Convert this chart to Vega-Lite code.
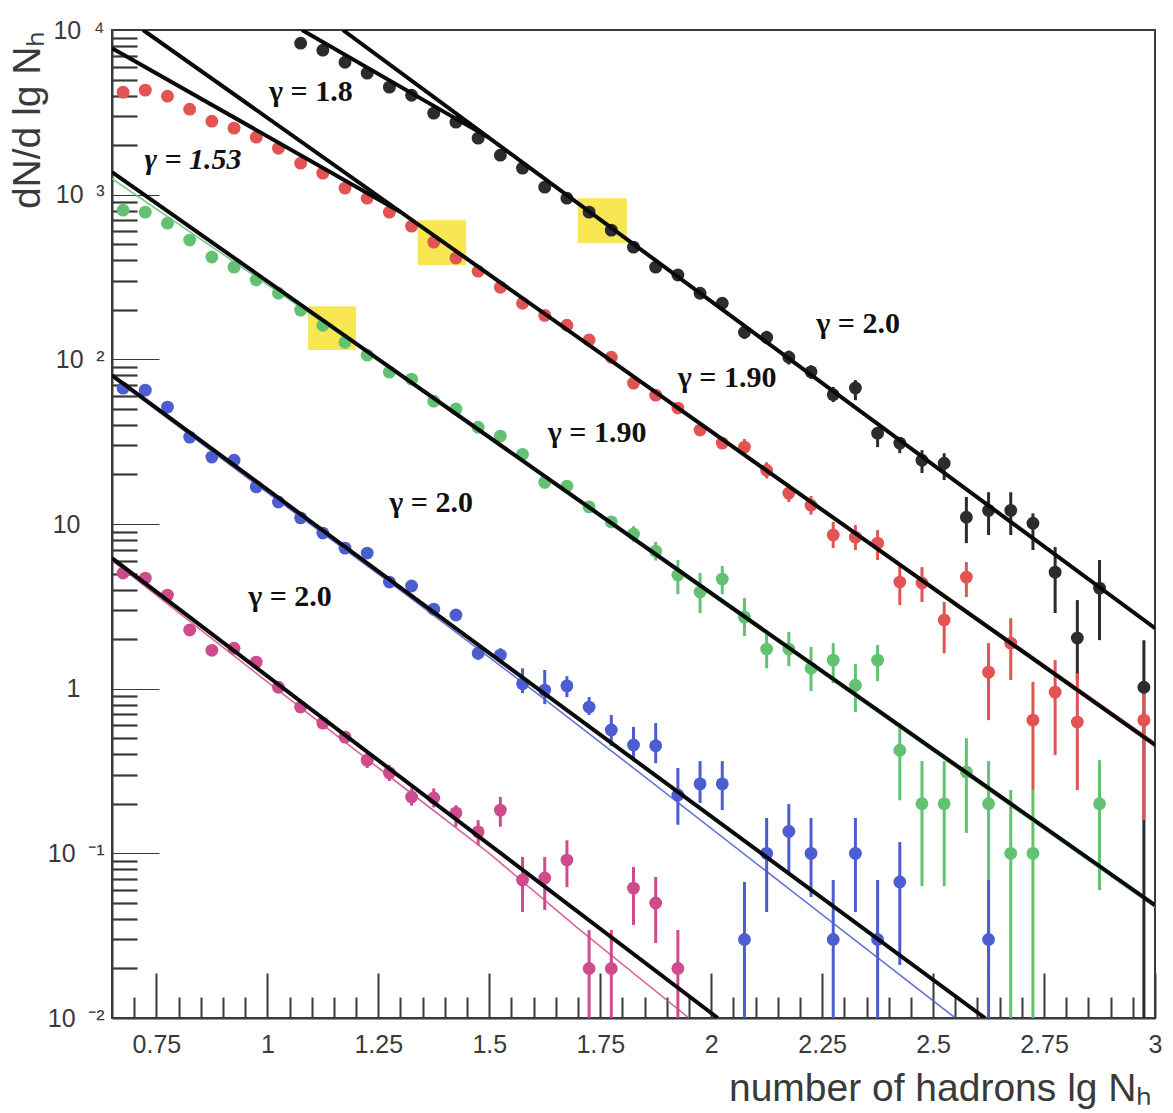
{
  "$schema": "https://vega.github.io/schema/vega-lite/v6.json",
  "width": 1043,
  "height": 988,
  "autosize": {"type": "none"},
  "padding": {"left": 112, "top": 30, "right": 18, "bottom": 95},
  "background": "white",
  "config": {
    "view": {"stroke": "#3a3a3a", "strokeWidth": 2},
    "axis": {
      "grid": false,
      "domainColor": "#3a3a3a",
      "domainWidth": 2,
      "tickColor": "#3a3a3a",
      "labelColor": "#3a3a3a",
      "titleColor": "#3a3a3a",
      "labelFont": "Liberation Sans",
      "titleFont": "Liberation Sans",
      "titleFontWeight": "normal",
      "labelOverlap": false,
      "labelFlush": false,
      "labelLimit": 0
    }
  },
  "datasets": {
    "points": [
      {"s": "black", "x": 1.075, "y": 8318},
      {"s": "black", "x": 1.125, "y": 7540},
      {"s": "black", "x": 1.175, "y": 6370},
      {"s": "black", "x": 1.225, "y": 5470},
      {"s": "black", "x": 1.275, "y": 4497},
      {"s": "black", "x": 1.325, "y": 4018},
      {"s": "black", "x": 1.375, "y": 3126},
      {"s": "black", "x": 1.425, "y": 2757},
      {"s": "black", "x": 1.475, "y": 2204},
      {"s": "black", "x": 1.525, "y": 1737},
      {"s": "black", "x": 1.575, "y": 1449},
      {"s": "black", "x": 1.625, "y": 1111},
      {"s": "black", "x": 1.675, "y": 952},
      {"s": "black", "x": 1.725, "y": 783},
      {"s": "black", "x": 1.775, "y": 609},
      {"s": "black", "x": 1.825, "y": 480},
      {"s": "black", "x": 1.875, "y": 363},
      {"s": "black", "x": 1.925, "y": 325},
      {"s": "black", "x": 1.975, "y": 252},
      {"s": "black", "x": 2.025, "y": 219},
      {"s": "black", "x": 2.075, "y": 146},
      {"s": "black", "x": 2.125, "y": 136},
      {"s": "black", "x": 2.175, "y": 103},
      {"s": "black", "x": 2.225, "y": 84},
      {"s": "black", "x": 2.275, "y": 61},
      {"s": "black", "x": 2.325, "y": 67},
      {"s": "black", "x": 2.375, "y": 35.6},
      {"s": "black", "x": 2.425, "y": 31},
      {"s": "black", "x": 2.475, "y": 24.4},
      {"s": "black", "x": 2.525, "y": 23.4},
      {"s": "black", "x": 2.575, "y": 11.0},
      {"s": "black", "x": 2.625, "y": 12.1},
      {"s": "black", "x": 2.675, "y": 12.1},
      {"s": "black", "x": 2.725, "y": 10.1},
      {"s": "black", "x": 2.775, "y": 5.1},
      {"s": "black", "x": 2.825, "y": 2.03},
      {"s": "black", "x": 2.875, "y": 4.08},
      {"s": "black", "x": 2.975, "y": 1.02},

      {"s": "red", "x": 0.675, "y": 4190},
      {"s": "red", "x": 0.725, "y": 4312},
      {"s": "red", "x": 0.775, "y": 3963},
      {"s": "red", "x": 0.825, "y": 3304},
      {"s": "red", "x": 0.875, "y": 2794},
      {"s": "red", "x": 0.925, "y": 2535},
      {"s": "red", "x": 0.975, "y": 2234},
      {"s": "red", "x": 1.025, "y": 1915},
      {"s": "red", "x": 1.075, "y": 1553},
      {"s": "red", "x": 1.125, "y": 1351},
      {"s": "red", "x": 1.175, "y": 1096},
      {"s": "red", "x": 1.225, "y": 952},
      {"s": "red", "x": 1.275, "y": 783},
      {"s": "red", "x": 1.325, "y": 644},
      {"s": "red", "x": 1.375, "y": 515},
      {"s": "red", "x": 1.425, "y": 412},
      {"s": "red", "x": 1.475, "y": 343},
      {"s": "red", "x": 1.525, "y": 274},
      {"s": "red", "x": 1.575, "y": 219},
      {"s": "red", "x": 1.625, "y": 185},
      {"s": "red", "x": 1.675, "y": 161},
      {"s": "red", "x": 1.725, "y": 131},
      {"s": "red", "x": 1.775, "y": 103},
      {"s": "red", "x": 1.825, "y": 71.7},
      {"s": "red", "x": 1.875, "y": 60.6},
      {"s": "red", "x": 1.925, "y": 50.6},
      {"s": "red", "x": 1.975, "y": 37.2},
      {"s": "red", "x": 2.025, "y": 31.0},
      {"s": "red", "x": 2.075, "y": 29.3},
      {"s": "red", "x": 2.125, "y": 21.2},
      {"s": "red", "x": 2.175, "y": 15.4},
      {"s": "red", "x": 2.225, "y": 13.0},
      {"s": "red", "x": 2.275, "y": 8.57},
      {"s": "red", "x": 2.325, "y": 8.32},
      {"s": "red", "x": 2.375, "y": 7.65},
      {"s": "red", "x": 2.425, "y": 4.44},
      {"s": "red", "x": 2.475, "y": 4.38},
      {"s": "red", "x": 2.525, "y": 2.61},
      {"s": "red", "x": 2.575, "y": 4.76},
      {"s": "red", "x": 2.625, "y": 1.26},
      {"s": "red", "x": 2.675, "y": 1.89},
      {"s": "red", "x": 2.725, "y": 0.644},
      {"s": "red", "x": 2.775, "y": 0.953},
      {"s": "red", "x": 2.825, "y": 0.627},
      {"s": "red", "x": 2.975, "y": 0.644},

      {"s": "green", "x": 0.675, "y": 805},
      {"s": "green", "x": 0.725, "y": 783},
      {"s": "green", "x": 0.775, "y": 671},
      {"s": "green", "x": 0.825, "y": 530},
      {"s": "green", "x": 0.875, "y": 418},
      {"s": "green", "x": 0.925, "y": 363},
      {"s": "green", "x": 0.975, "y": 303},
      {"s": "green", "x": 1.025, "y": 252},
      {"s": "green", "x": 1.075, "y": 199},
      {"s": "green", "x": 1.125, "y": 161},
      {"s": "green", "x": 1.175, "y": 127},
      {"s": "green", "x": 1.225, "y": 106},
      {"s": "green", "x": 1.275, "y": 83.6},
      {"s": "green", "x": 1.325, "y": 75.8},
      {"s": "green", "x": 1.375, "y": 55.7},
      {"s": "green", "x": 1.425, "y": 49.9},
      {"s": "green", "x": 1.475, "y": 38.7},
      {"s": "green", "x": 1.525, "y": 34.2},
      {"s": "green", "x": 1.575, "y": 26.5},
      {"s": "green", "x": 1.625, "y": 17.9},
      {"s": "green", "x": 1.675, "y": 17.0},
      {"s": "green", "x": 1.725, "y": 12.7},
      {"s": "green", "x": 1.775, "y": 10.3},
      {"s": "green", "x": 1.825, "y": 8.69},
      {"s": "green", "x": 1.875, "y": 6.84},
      {"s": "green", "x": 1.925, "y": 4.9},
      {"s": "green", "x": 1.975, "y": 3.86},
      {"s": "green", "x": 2.025, "y": 4.63},
      {"s": "green", "x": 2.075, "y": 2.72},
      {"s": "green", "x": 2.125, "y": 1.74},
      {"s": "green", "x": 2.175, "y": 1.74},
      {"s": "green", "x": 2.225, "y": 1.33},
      {"s": "green", "x": 2.275, "y": 1.49},
      {"s": "green", "x": 2.325, "y": 1.05},
      {"s": "green", "x": 2.375, "y": 1.49},
      {"s": "green", "x": 2.425, "y": 0.423},
      {"s": "green", "x": 2.475, "y": 0.2},
      {"s": "green", "x": 2.525, "y": 0.2},
      {"s": "green", "x": 2.575, "y": 0.312},
      {"s": "green", "x": 2.625, "y": 0.2},
      {"s": "green", "x": 2.675, "y": 0.1},
      {"s": "green", "x": 2.725, "y": 0.1},
      {"s": "green", "x": 2.875, "y": 0.2},

      {"s": "blue", "x": 0.675, "y": 66.8},
      {"s": "blue", "x": 0.725, "y": 65.0},
      {"s": "blue", "x": 0.775, "y": 51.3},
      {"s": "blue", "x": 0.825, "y": 33.7},
      {"s": "blue", "x": 0.875, "y": 25.5},
      {"s": "blue", "x": 0.925, "y": 24.4},
      {"s": "blue", "x": 0.975, "y": 16.8},
      {"s": "blue", "x": 1.025, "y": 13.6},
      {"s": "blue", "x": 1.075, "y": 10.9},
      {"s": "blue", "x": 1.125, "y": 8.81},
      {"s": "blue", "x": 1.175, "y": 7.14},
      {"s": "blue", "x": 1.225, "y": 6.66},
      {"s": "blue", "x": 1.275, "y": 4.44},
      {"s": "blue", "x": 1.325, "y": 4.2},
      {"s": "blue", "x": 1.375, "y": 3.04},
      {"s": "blue", "x": 1.425, "y": 2.8},
      {"s": "blue", "x": 1.475, "y": 1.64},
      {"s": "blue", "x": 1.525, "y": 1.6},
      {"s": "blue", "x": 1.575, "y": 1.07},
      {"s": "blue", "x": 1.625, "y": 0.98},
      {"s": "blue", "x": 1.675, "y": 1.04},
      {"s": "blue", "x": 1.725, "y": 0.773},
      {"s": "blue", "x": 1.775, "y": 0.561},
      {"s": "blue", "x": 1.825, "y": 0.455},
      {"s": "blue", "x": 1.875, "y": 0.45},
      {"s": "blue", "x": 1.925, "y": 0.226},
      {"s": "blue", "x": 1.975, "y": 0.264},
      {"s": "blue", "x": 2.025, "y": 0.264},
      {"s": "blue", "x": 2.075, "y": 0.03},
      {"s": "blue", "x": 2.125, "y": 0.1},
      {"s": "blue", "x": 2.175, "y": 0.136},
      {"s": "blue", "x": 2.225, "y": 0.1},
      {"s": "blue", "x": 2.275, "y": 0.03},
      {"s": "blue", "x": 2.325, "y": 0.1},
      {"s": "blue", "x": 2.375, "y": 0.03},
      {"s": "blue", "x": 2.425, "y": 0.067},
      {"s": "blue", "x": 2.625, "y": 0.03},

      {"s": "magenta", "x": 0.675, "y": 5.04},
      {"s": "magenta", "x": 0.725, "y": 4.69},
      {"s": "magenta", "x": 0.775, "y": 3.7},
      {"s": "magenta", "x": 0.825, "y": 2.27},
      {"s": "magenta", "x": 0.875, "y": 1.71},
      {"s": "magenta", "x": 0.925, "y": 1.76},
      {"s": "magenta", "x": 0.975, "y": 1.45},
      {"s": "magenta", "x": 1.025, "y": 1.02},
      {"s": "magenta", "x": 1.075, "y": 0.773},
      {"s": "magenta", "x": 1.125, "y": 0.618},
      {"s": "magenta", "x": 1.175, "y": 0.508},
      {"s": "magenta", "x": 1.225, "y": 0.368},
      {"s": "magenta", "x": 1.275, "y": 0.308},
      {"s": "magenta", "x": 1.325, "y": 0.22},
      {"s": "magenta", "x": 1.375, "y": 0.217},
      {"s": "magenta", "x": 1.425, "y": 0.176},
      {"s": "magenta", "x": 1.475, "y": 0.135},
      {"s": "magenta", "x": 1.525, "y": 0.183},
      {"s": "magenta", "x": 1.575, "y": 0.0689},
      {"s": "magenta", "x": 1.625, "y": 0.0708},
      {"s": "magenta", "x": 1.675, "y": 0.091},
      {"s": "magenta", "x": 1.725, "y": 0.02},
      {"s": "magenta", "x": 1.775, "y": 0.02},
      {"s": "magenta", "x": 1.825, "y": 0.0615},
      {"s": "magenta", "x": 1.875, "y": 0.0499},
      {"s": "magenta", "x": 1.925, "y": 0.02}
    ],
    "errors": [
      {"s": "black", "x": 2.075, "y": 133, "y2": 160},
      {"s": "black", "x": 2.125, "y": 124, "y2": 149},
      {"s": "black", "x": 2.175, "y": 93, "y2": 113},
      {"s": "black", "x": 2.225, "y": 76, "y2": 92},
      {"s": "black", "x": 2.275, "y": 55, "y2": 68},
      {"s": "black", "x": 2.325, "y": 56.5, "y2": 74.8},
      {"s": "black", "x": 2.375, "y": 29.3, "y2": 38.7},
      {"s": "black", "x": 2.425, "y": 26.9, "y2": 33.7},
      {"s": "black", "x": 2.475, "y": 20.4, "y2": 28.1},
      {"s": "black", "x": 2.525, "y": 18.5, "y2": 26.9},
      {"s": "black", "x": 2.575, "y": 7.65, "y2": 14.6},
      {"s": "black", "x": 2.625, "y": 8.57, "y2": 15.6},
      {"s": "black", "x": 2.675, "y": 8.57, "y2": 15.6},
      {"s": "black", "x": 2.725, "y": 6.95, "y2": 11.6},
      {"s": "black", "x": 2.775, "y": 2.88, "y2": 7.24},
      {"s": "black", "x": 2.825, "y": 1.13, "y2": 3.45},
      {"s": "black", "x": 2.875, "y": 1.97, "y2": 6.04},
      {"s": "black", "x": 2.975, "y": 0.01, "y2": 1.97},

      {"s": "red", "x": 2.075, "y": 26.2, "y2": 32.8},
      {"s": "red", "x": 2.125, "y": 18.9, "y2": 23.7},
      {"s": "red", "x": 2.175, "y": 13.6, "y2": 17.4},
      {"s": "red", "x": 2.225, "y": 11.4, "y2": 14.8},
      {"s": "red", "x": 2.275, "y": 7.14, "y2": 10.3},
      {"s": "red", "x": 2.325, "y": 6.95, "y2": 9.85},
      {"s": "red", "x": 2.375, "y": 6.04, "y2": 9.18},
      {"s": "red", "x": 2.425, "y": 3.22, "y2": 5.63},
      {"s": "red", "x": 2.475, "y": 3.36, "y2": 5.47},
      {"s": "red", "x": 2.525, "y": 1.64, "y2": 3.36},
      {"s": "red", "x": 2.575, "y": 3.6, "y2": 5.87},
      {"s": "red", "x": 2.625, "y": 0.644, "y2": 1.89},
      {"s": "red", "x": 2.675, "y": 1.13, "y2": 2.68},
      {"s": "red", "x": 2.725, "y": 0.242, "y2": 1.1},
      {"s": "red", "x": 2.775, "y": 0.395, "y2": 1.49},
      {"s": "red", "x": 2.825, "y": 0.242, "y2": 1.24},
      {"s": "red", "x": 2.975, "y": 0.159, "y2": 1.1},

      {"s": "green", "x": 1.825, "y": 7.8, "y2": 9.7},
      {"s": "green", "x": 1.875, "y": 6.0, "y2": 7.8},
      {"s": "green", "x": 1.925, "y": 3.75, "y2": 6.04},
      {"s": "green", "x": 1.975, "y": 2.88, "y2": 5.04},
      {"s": "green", "x": 2.025, "y": 3.75, "y2": 5.55},
      {"s": "green", "x": 2.075, "y": 2.09, "y2": 3.55},
      {"s": "green", "x": 2.125, "y": 1.33, "y2": 2.21},
      {"s": "green", "x": 2.175, "y": 1.37, "y2": 2.21},
      {"s": "green", "x": 2.225, "y": 0.966, "y2": 1.79},
      {"s": "green", "x": 2.275, "y": 1.08, "y2": 1.89},
      {"s": "green", "x": 2.325, "y": 0.721, "y2": 1.41},
      {"s": "green", "x": 2.375, "y": 1.11, "y2": 1.84},
      {"s": "green", "x": 2.425, "y": 0.21, "y2": 0.618},
      {"s": "green", "x": 2.475, "y": 0.0632, "y2": 0.363},
      {"s": "green", "x": 2.525, "y": 0.0632, "y2": 0.363},
      {"s": "green", "x": 2.575, "y": 0.133, "y2": 0.501},
      {"s": "green", "x": 2.625, "y": 0.02, "y2": 0.363},
      {"s": "green", "x": 2.675, "y": 0.01, "y2": 0.242},
      {"s": "green", "x": 2.725, "y": 0.01, "y2": 0.242},
      {"s": "green", "x": 2.875, "y": 0.0598, "y2": 0.368},

      {"s": "blue", "x": 1.475, "y": 1.5, "y2": 1.8},
      {"s": "blue", "x": 1.525, "y": 1.45, "y2": 1.76},
      {"s": "blue", "x": 1.575, "y": 0.94, "y2": 1.33},
      {"s": "blue", "x": 1.625, "y": 0.805, "y2": 1.3},
      {"s": "blue", "x": 1.675, "y": 0.889, "y2": 1.19},
      {"s": "blue", "x": 1.725, "y": 0.692, "y2": 0.889},
      {"s": "blue", "x": 1.775, "y": 0.449, "y2": 0.692},
      {"s": "blue", "x": 1.825, "y": 0.363, "y2": 0.585},
      {"s": "blue", "x": 1.875, "y": 0.353, "y2": 0.618},
      {"s": "blue", "x": 1.925, "y": 0.149, "y2": 0.33},
      {"s": "blue", "x": 1.975, "y": 0.202, "y2": 0.363},
      {"s": "blue", "x": 2.025, "y": 0.183, "y2": 0.363},
      {"s": "blue", "x": 2.075, "y": 0.01, "y2": 0.067},
      {"s": "blue", "x": 2.125, "y": 0.044, "y2": 0.164},
      {"s": "blue", "x": 2.175, "y": 0.0738, "y2": 0.199},
      {"s": "blue", "x": 2.225, "y": 0.0543, "y2": 0.164},
      {"s": "blue", "x": 2.275, "y": 0.01, "y2": 0.0689},
      {"s": "blue", "x": 2.325, "y": 0.044, "y2": 0.164},
      {"s": "blue", "x": 2.375, "y": 0.01, "y2": 0.0689},
      {"s": "blue", "x": 2.425, "y": 0.021, "y2": 0.117},
      {"s": "blue", "x": 2.625, "y": 0.01, "y2": 0.0689},

      {"s": "magenta", "x": 1.225, "y": 0.33, "y2": 0.41},
      {"s": "magenta", "x": 1.275, "y": 0.275, "y2": 0.345},
      {"s": "magenta", "x": 1.325, "y": 0.195, "y2": 0.248},
      {"s": "magenta", "x": 1.375, "y": 0.19, "y2": 0.248},
      {"s": "magenta", "x": 1.425, "y": 0.145, "y2": 0.196},
      {"s": "magenta", "x": 1.475, "y": 0.112, "y2": 0.159},
      {"s": "magenta", "x": 1.525, "y": 0.145, "y2": 0.22},
      {"s": "magenta", "x": 1.575, "y": 0.044, "y2": 0.0951},
      {"s": "magenta", "x": 1.625, "y": 0.0453, "y2": 0.0951},
      {"s": "magenta", "x": 1.675, "y": 0.0623, "y2": 0.12},
      {"s": "magenta", "x": 1.725, "y": 0.01, "y2": 0.0342},
      {"s": "magenta", "x": 1.775, "y": 0.01, "y2": 0.0342},
      {"s": "magenta", "x": 1.825, "y": 0.0367, "y2": 0.0826},
      {"s": "magenta", "x": 1.875, "y": 0.0285, "y2": 0.0718},
      {"s": "magenta", "x": 1.925, "y": 0.01, "y2": 0.0342}
    ],
    "fits": [
      {"id": "black 2.0", "x": 1.17, "y": 10000},
      {"id": "black 2.0", "x": 3.0, "y": 2.33},
      {"id": "black 1.8", "x": 1.078, "y": 10000},
      {"id": "black 1.8", "x": 1.5, "y": 2213},
      {"id": "red 1.90", "x": 0.72, "y": 10000},
      {"id": "red 1.90", "x": 3.0, "y": 0.455},
      {"id": "red 1.53", "x": 0.65, "y": 7760},
      {"id": "red 1.53", "x": 1.3, "y": 786},
      {"id": "green 1.90", "x": 0.65, "y": 1371},
      {"id": "green 1.90", "x": 3.0, "y": 0.0485},
      {"id": "blue 2.0", "x": 0.65, "y": 80},
      {"id": "blue 2.0", "x": 2.617, "y": 0.01},
      {"id": "magenta 2.0", "x": 0.65, "y": 6.2},
      {"id": "magenta 2.0", "x": 2.015, "y": 0.01}
    ],
    "models": [
      {"s": "red", "x": 0.65, "y": 7700},
      {"s": "red", "x": 1.3, "y": 780},
      {"s": "red", "x": 3.0, "y": 0.47},
      {"s": "green", "x": 0.65, "y": 1250},
      {"s": "green", "x": 1.2, "y": 122},
      {"s": "green", "x": 3.0, "y": 0.047},
      {"s": "blue", "x": 0.65, "y": 78},
      {"s": "blue", "x": 1.0, "y": 15.5},
      {"s": "blue", "x": 1.3, "y": 3.95},
      {"s": "blue", "x": 1.6, "y": 0.97},
      {"s": "blue", "x": 1.9, "y": 0.23},
      {"s": "blue", "x": 2.2, "y": 0.054},
      {"s": "blue", "x": 2.55, "y": 0.01},
      {"s": "magenta", "x": 0.65, "y": 6.0},
      {"s": "magenta", "x": 1.0, "y": 1.1},
      {"s": "magenta", "x": 1.3, "y": 0.26},
      {"s": "magenta", "x": 1.5, "y": 0.1},
      {"s": "magenta", "x": 1.7, "y": 0.035},
      {"s": "magenta", "x": 1.95, "y": 0.01}
    ],
    "boxes": [
      {"x": 1.7, "x2": 1.81, "y": 508, "y2": 952},
      {"x": 1.339, "x2": 1.448, "y": 373, "y2": 700},
      {"x": 1.092, "x2": 1.2, "y": 114, "y2": 210}
    ],
    "labels": [
      {"x": 1.098, "y": 4190, "text": "γ = 1.8", "style": "upright"},
      {"x": 0.8325, "y": 1619, "text": "γ = 1.53", "style": "italic"},
      {"x": 2.331, "y": 164, "text": "γ = 2.0", "style": "upright"},
      {"x": 2.036, "y": 76.9, "text": "γ = 1.90", "style": "upright"},
      {"x": 1.743, "y": 35.6, "text": "γ = 1.90", "style": "upright"},
      {"x": 1.369, "y": 13.4, "text": "γ = 2.0", "style": "upright"},
      {"x": 1.051, "y": 3.6, "text": "γ = 2.0", "style": "upright"}
    ]
  },
  "encoding": {
    "x": {
      "field": "x",
      "type": "quantitative",
      "scale": {"domain": [0.65, 3.0], "nice": false, "zero": false},
      "axis": {
        "values": [0.7, 0.75, 0.8, 0.85, 0.9, 0.95, 1.0, 1.05, 1.1, 1.15, 1.2, 1.25, 1.3, 1.35, 1.4, 1.45, 1.5, 1.55, 1.6, 1.65, 1.7, 1.75, 1.8, 1.85, 1.9, 1.95, 2.0, 2.05, 2.1, 2.15, 2.2, 2.25, 2.3, 2.35, 2.4, 2.45, 2.5, 2.55, 2.6, 2.65, 2.7, 2.75, 2.8, 2.85, 2.9, 2.95, 3.0],
        "format": "~g",
        "labelExpr": "abs(datum.value * 4 - round(datum.value * 4)) < 0.001 ? datum.label : ''",
        "tickSize": {"condition": {"test": "abs(datum.value * 4 - round(datum.value * 4)) < 0.001", "value": -45}, "value": -21},
        "tickWidth": 2,
        "labelPadding": 59,
        "labelFontSize": 25,
        "title": "number of hadrons lg Nₕ",
        "titleFontSize": 39,
        "titleAlign": "right",
        "titleAnchor": "end",
        "titleBaseline": "middle",
        "titleX": 1040,
        "titleY": 70
      }
    },
    "y": {
      "field": "y",
      "type": "quantitative",
      "scale": {"type": "log", "domain": [0.01, 10000], "nice": false},
      "axis": {
        "values": [0.01, 0.02, 0.03, 0.04, 0.05, 0.06, 0.07, 0.08, 0.09, 0.1, 0.2, 0.3, 0.4, 0.5, 0.6, 0.7, 0.8, 0.9, 1, 2, 3, 4, 5, 6, 7, 8, 9, 10, 20, 30, 40, 50, 60, 70, 80, 90, 100, 200, 300, 400, 500, 600, 700, 800, 900, 1000, 2000, 3000, 4000, 5000, 6000, 7000, 8000, 9000, 10000],
        "labelExpr": "abs(log(datum.value) / LN10 - round(log(datum.value) / LN10)) > 0.001 ? '' : round(log(datum.value) / LN10) == 4 ? '10\u2002\u2074' : round(log(datum.value) / LN10) == 3 ? '10\u2002\u00b3' : round(log(datum.value) / LN10) == 2 ? '10\u2002\u00b2' : round(log(datum.value) / LN10) == 1 ? '10' : round(log(datum.value) / LN10) == 0 ? '1' : round(log(datum.value) / LN10) == -1 ? '10\u2002\u207b\u00b9' : '10\u2002\u207b\u00b2'",
        "tickSize": {"condition": {"test": "abs(log(datum.value) / LN10 - round(log(datum.value) / LN10)) < 0.001", "value": -47}, "value": -25},
        "tickWidth": {"condition": {"test": "abs(log(datum.value) / LN10 - round(log(datum.value) / LN10)) < 0.001", "value": 1.2}, "value": 2.2},
        "labelPadding": {"condition": {"test": "datum.value == 1 || datum.value == 10", "value": 79}, "value": 55},
        "labelFontSize": 25,
        "labelAlign": "right",
        "labelBaseline": "middle",
        "title": "dN/d lg Nₕ",
        "titleFontSize": 39,
        "titleAngle": -90,
        "titleAlign": "right",
        "titleAnchor": "end",
        "titleBaseline": "middle",
        "titleX": -85,
        "titleY": 0
      }
    }
  },
  "layer": [
    {
      "data": {"name": "boxes"},
      "mark": {"type": "rect", "color": "#f8e54a", "opacity": 0.95},
      "encoding": {
        "x2": {"field": "x2"},
        "y2": {"field": "y2"}
      }
    },
    {
      "data": {"name": "models"},
      "mark": {"type": "line", "strokeWidth": 1.6, "opacity": 0.85, "clip": true},
      "encoding": {
        "color": {
          "field": "s",
          "type": "nominal",
          "scale": {"domain": ["black", "red", "green", "blue", "magenta"], "range": ["#2b2b30", "#e25454", "#62c272", "#4b5dd0", "#cf4b8e"]},
          "legend": null
        }
      }
    },
    {
      "data": {"name": "errors"},
      "mark": {"type": "rule", "strokeWidth": 3, "clip": true},
      "encoding": {
        "y2": {"field": "y2"},
        "color": {"field": "s", "type": "nominal", "legend": null}
      }
    },
    {
      "data": {"name": "points"},
      "mark": {"type": "circle", "size": 165, "opacity": 1, "clip": true},
      "encoding": {
        "color": {"field": "s", "type": "nominal", "legend": null}
      }
    },
    {
      "data": {"name": "fits"},
      "mark": {"type": "line", "color": "#0a0a0a", "strokeWidth": 4, "clip": true},
      "encoding": {
        "detail": {"field": "id", "type": "nominal"}
      }
    },
    {
      "data": {"name": "labels"},
      "transform": [{"filter": "datum.style == 'upright'"}],
      "mark": {"type": "text", "font": "Liberation Serif", "fontWeight": "bold", "fontSize": 30, "color": "#111111", "align": "center", "baseline": "middle"},
      "encoding": {
        "text": {"field": "text", "type": "nominal"}
      }
    },
    {
      "data": {"name": "labels"},
      "transform": [{"filter": "datum.style == 'italic'"}],
      "mark": {"type": "text", "font": "Liberation Serif", "fontWeight": "bold", "fontStyle": "italic", "fontSize": 30, "color": "#111111", "align": "center", "baseline": "middle"},
      "encoding": {
        "text": {"field": "text", "type": "nominal"}
      }
    }
  ]
}
